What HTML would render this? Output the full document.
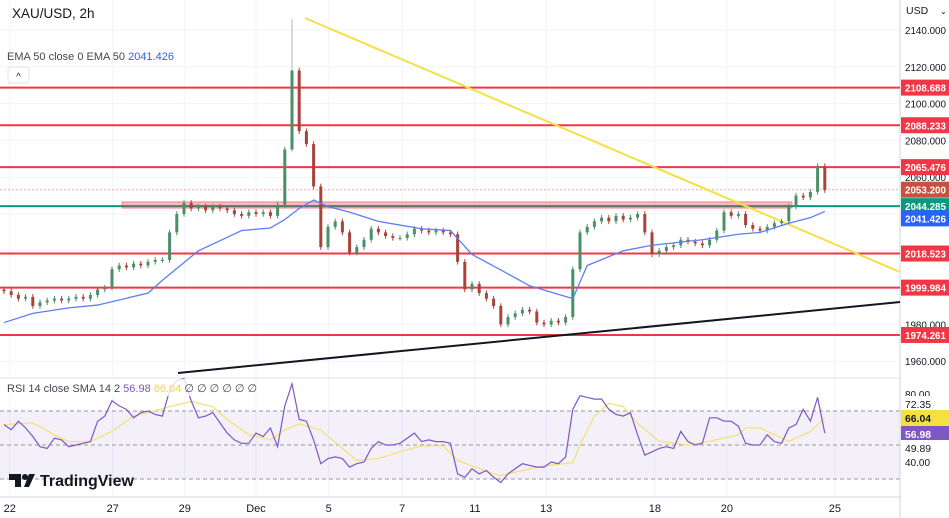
<!DOCTYPE html>
<html><head><meta charset="utf-8"><style>
html,body{margin:0;padding:0;background:#fff;width:949px;height:518px;overflow:hidden;font-family:"Liberation Sans",sans-serif}
svg{display:block}
</style></head><body>
<svg id="chart" width="949" height="518" viewBox="0 0 949 518" xmlns="http://www.w3.org/2000/svg" font-family="Liberation Sans, sans-serif"></svg>
<script>
const closes=[1998,1996,1994,1995,1990,1992,1993,1994,1993,1994,1995,1994,1996,1999,2000,2010,2012,2011,2013,2012,2014,2015,2015,2030,2040,2046,2043,2044,2042,2044,2043,2042,2040,2039,2041,2040,2041,2039,2045,2075,2118,2085,2078,2055,2022,2033,2036,2030,2019,2022,2026,2032,2030,2028,2027,2027,2029,2032,2031,2030,2031,2030,2029,2014,1999,2002,1997,1994,1990,1980,1984,1986,1988,1987,1981,1980,1982,1981,1984,2010,2030,2033,2036,2038,2036,2039,2037,2038,2040,2030,2018,2020,2022,2023,2026,2025,2024,2023,2026,2031,2041,2039,2040,2034,2032,2031,2033,2035,2036,2044,2050,2049,2052,2066,2053];
const spikeHigh=[40,2146];
const emaIdx=[0,4,9,13,20,22,27,33,37,39,41,43,45,48,52,58,62,65,69,73,79,81,86,90,97,102,105,109,112,114];
const emaVal=[1981,1986,1989,1990.5,1997,2004,2020,2031,2032.4,2037,2043,2047.6,2044,2041,2036,2032,2031,2018,2009.6,2001,1994,2012,2020,2023,2026,2029,2030,2035,2038,2041.4];
const rsiVals=[62,59,64,60,55,49,48,54,53,49,50,51,52,64,67,76,73,71,66,69,70,68,67,82,88,89,76,66,67,69,63,57,53,51,51,57,55,60,49,73,86,65,64,53,39,42,43,42,37,39,40,48,52,50,50,51,54,57,52,53,52,52,51,33,31,36,33,35,31,28,33,36,39,38,37,37,40,39,43,71,79,78,77,77,71,68,67,69,56,44,46,48,49,48,58,52,50,51,66,66,64,64,61,51,50,50,56,52,51,60,62,71,64,78,57];
const smaIdx=[0,4,7,9,12,15,18,20,23,26,29,31,34,37,39,41,44,47,49,52,55,58,61,63,65,68,69,72,75,79,80,82,84,86,88,91,95,98,102,103,105,107,109,112,114];
const smaVal=[62,63,56,52,52,58,67,69,72.6,75.6,72.5,65,56,53,59,62.4,58.8,48,41,42,46,49.5,49.5,41,37.7,33,32,35,37.7,39.6,50,67,74.5,72.6,62.7,52.2,50,52.2,56,60,60,56,52.2,57.8,66];
const levels=[2108.688,2088.233,2065.476,2018.523,1999.984,1974.261];
const priceTicks=[2140,2120,2100,2080,2060,1980,1960];
const rsiTicks=[80,40];
const dateLabels=["22","27","29","Dec","5","7","11","13","18","20","25"];
const dateIdx=[0.8,15.1,25.1,35,45.1,55.3,65.4,75.3,90.4,100.4,115.4];

const S=document.getElementById('chart');
const NS='http://www.w3.org/2000/svg';
function mk(tag,attrs,parent){const e=document.createElementNS(NS,tag);for(const k in attrs)e.setAttribute(k,attrs[k]);(parent||S).appendChild(e);return e;}
const PW=900;
const X=i=>4+i*7.2;
const Y=p=>30+(2140-p)*1.84;
const RY=v=>479-(v-30)*1.7;

dateIdx.forEach(i=>{const g=mk('line',{x1:X(i),x2:X(i),y1:0,y2:497,stroke:'#f0f3fa'});});
[2140,2120,2100,2080,2060,2040,2020,2000,1980,1960].forEach(p=>{const g=mk('line',{x1:0,x2:PW,y1:Y(p),y2:Y(p),stroke:'#f0f3fa'});});

const band=mk('rect',{x:0,y:RY(70),width:PW,height:RY(30)-RY(70),fill:'rgba(126,87,194,0.09)'});

[70,50,30].forEach(v=>{const l=mk('line',{x1:0,x2:PW,y1:RY(v),y2:RY(v),stroke:'#9598a1','stroke-dasharray':'4 3','stroke-width':1});});

const sep1=mk('line',{x1:0,x2:949,y1:378,y2:378,stroke:'#e0e3eb'});
const sep2=mk('line',{x1:0,x2:949,y1:497,y2:497,stroke:'#d1d4dc'});
const sep3=mk('line',{x1:PW,x2:PW,y1:0,y2:518,stroke:'#d1d4dc'});

const gl=mk('line',{x1:0,x2:PW,y1:Y(2044.285),y2:Y(2044.285),stroke:'#089981','stroke-width':2});
const zone=mk('rect',{x:122,y:Y(2046.6),width:670,height:Y(2043.2)-Y(2046.6),fill:'rgba(242,54,69,0.35)',stroke:'rgba(242,54,69,0.5)'});
const dl=mk('line',{x1:0,x2:PW,y1:Y(2053.2),y2:Y(2053.2),stroke:'#f7a6ac','stroke-dasharray':'2 2'});

levels.forEach(p=>{const l=mk('line',{x1:0,x2:PW,y1:Y(p),y2:Y(p),stroke:'#f23645','stroke-width':2});});

const yl=mk('line',{x1:305,y1:18,x2:PW,y2:272,stroke:'#f5e042','stroke-width':2});
const bl=mk('line',{x1:178,y1:373,x2:PW,y2:302,stroke:'#131722','stroke-width':2});

closes.forEach((c,i)=>{
  const o=i?closes[i-1]:c+1;
  let hi=Math.max(o,c)+1.5, lo=Math.min(o,c)-1.5;
  if(i===spikeHigh[0])hi=spikeHigh[1];
  const up=c>=o, col=up?'#4a8f66':'#a8433a';
  const w=mk('line',{x1:X(i),x2:X(i),y1:Y(hi),y2:Y(lo),stroke:i===spikeHigh[0]?'#b2b5be':col,'stroke-width':1});
  
  const b=mk('rect',{x:X(i)-1.5,y:Y(Math.max(o,c)),width:3,height:Math.max(1,Math.abs(Y(o)-Y(c))),fill:col});
  
});

const ema=mk('polyline',{points:emaIdx.map((i,k)=>X(i)+','+Y(emaVal[k])).join(' '),fill:'none',stroke:'#5b7ff0','stroke-width':1.3,'stroke-linejoin':'round'});


const sma=mk('polyline',{points:smaIdx.map((i,k)=>X(i)+','+RY(smaVal[k])).join(' '),fill:'none',stroke:'#f2e27a','stroke-width':1.3});

const rsi=mk('polyline',{points:rsiVals.map((v,i)=>X(i)+','+RY(v)).join(' '),fill:'none',stroke:'#7e57c2','stroke-width':1.2});


const axBg=mk('rect',{x:PW+1,y:0,width:48,height:518,fill:'#fff'});
priceTicks.forEach(p=>{const t=mk('text',{x:905,y:Y(p)+4,'font-size':10,fill:'#131722',textLength:41,lengthAdjust:'spacingAndGlyphs'});t.textContent=p.toFixed(3);});
function tag(val,y,bg,fg,name,bold,tl){const r=mk('rect',{x:PW+1,y:y-8,width:48,height:16,fill:bg});
 const t=mk('text',{x:905,y:y+4,'font-size':10,fill:fg,'font-weight':bold?'bold':'normal',textLength:tl,lengthAdjust:'spacingAndGlyphs'});t.textContent=val;}
levels.forEach(p=>tag(p.toFixed(3),Y(p),'#f23645','#fff','level-price-tag',true,41));
tag('2053.200',Y(2053.2),'#c9503f','#fff','last-price-tag',true,41);
tag('2044.285',Y(2044.285),'#089981','#fff','support-price-tag',true,41);
tag('2041.426',Y(2041.426)+7,'#2962ff','#fff','ema-price-tag',true,41);
const usd=mk('text',{x:906,y:14,'font-size':10.5,fill:'#131722'});usd.textContent='USD';
const chev=mk('text',{x:940,y:14,'font-size':8,fill:'#131722'});chev.textContent='⌄';

rsiTicks.forEach(v=>{const t=mk('text',{x:905,y:RY(v)+4,'font-size':10,fill:'#131722'});t.textContent=v.toFixed(2);});
tag('72.35',404,'#fff','#131722','rsi-upper-label',false,26);
tag('66.04',418,'#f5e042','#131722','rsi-sma-tag',true,26);
tag('56.98',434,'#7e57c2','#fff','rsi-value-tag',true,26);
tag('49.89',448,'#fff','#131722','rsi-lower-label',false,26);

dateLabels.forEach((d,k)=>{const t=mk('text',{x:X(dateIdx[k]),y:512,'font-size':11,fill:'#131722','text-anchor':'middle'});t.textContent=d;});

const h1=mk('text',{x:12,y:18,'font-size':13.5,fill:'#131722'});h1.textContent='XAU/USD, 2h';
const h2=mk('text',{x:7,y:60,'font-size':11,fill:'#434651'});h2.textContent='EMA 50 close 0 EMA 50 ';
const h2v=mk('tspan',{fill:'#2962ff'},h2);h2v.textContent=' 2041.426';
const btn=mk('rect',{x:8,y:67,width:21,height:16,rx:3,fill:'#fff',stroke:'#e0e3eb'});
const bt=mk('text',{x:18.5,y:80,'font-size':10,fill:'#131722','text-anchor':'middle'});bt.textContent='^';
const rbg=mk('rect',{x:3,y:379,width:240,height:17,fill:'rgba(255,255,255,0.8)'});
const r1=mk('text',{x:7,y:392,'font-size':11,fill:'#434651'});
r1.textContent='RSI 14 close SMA 14 2 ';
const r2=mk('tspan',{fill:'#7e57c2'},r1);r2.textContent=' 56.98 ';
const r3=mk('tspan',{fill:'#f5d83a'},r1);r3.textContent='66.04';
const r4=mk('tspan',{fill:'#434651'},r1);r4.textContent=' ∅ ∅ ∅ ∅ ∅ ∅';

const lg=mk('g',{});
mk('path',{d:'M9 474h12v13h-6v-7h-6z',fill:'#131722'},lg);
mk('circle',{cx:25,cy:477,r:3,fill:'#131722'},lg);
mk('path',{d:'M29 474h6l-6 13h-5z',fill:'#131722'},lg);
const lt=mk('text',{x:40,y:486,'font-size':16,'font-weight':'bold',fill:'#131722'},lg);lt.textContent='TradingView';
</script>
</body></html>
